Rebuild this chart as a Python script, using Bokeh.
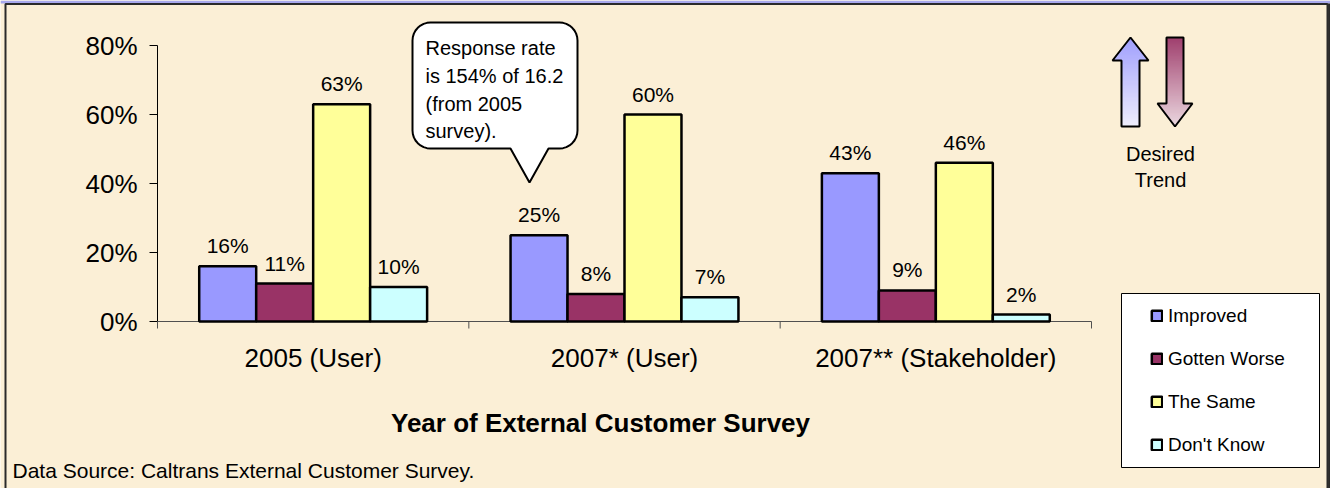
import math
from bokeh.plotting import figure
from bokeh.models import Legend, LegendItem, Label, Range1d, ColumnDataSource
from bokeh.transform import dodge
from bokeh.core.properties import value
from bokeh.embed import file_html
from bokeh.resources import INLINE

# ---------------- data ----------------
categories = ["2005 (User)", "2007* (User)", "2007** (Stakeholder)"]
series = ["Improved", "Gotten Worse", "The Same", "Don't Know"]
improved = [16, 25, 43]
gotten_worse = [11, 8, 9]
the_same = [63, 60, 46]
dont_know = [10, 7, 2]
y_ticks = [0, 20, 40, 60, 80]
y_tick_labels = ["0%", "20%", "40%", "60%", "80%"]
x_title = "Year of External Customer Survey"
source_note = "Data Source: Caltrans External Customer Survey."
callout_lines = ["Response rate", "is 154% of 16.2", "(from 2005", "survey)."]
trend_lines = ["Desired", "Trend"]

# ---------------- styles ----------------
FONT = "Liberation Sans"
BG = "#FBEFD6"
colors = ["#9999FF", "#993366", "#FFFF99", "#CCFFFF"]

W, H = 1330, 488
W_CAT = 934 / 3          # px per category
X0, Y0 = 157, 321        # pixel position of the data origin
PX_Y = 276 / 80          # px per percent


def ix(px):
    return (px - X0) / W_CAT


def iy(py):
    return (Y0 - py) / PX_Y


p = figure(width=W, height=H, x_range=Range1d(ix(0), ix(W)),
           y_range=Range1d(iy(H), iy(0)), min_border=0,
           x_axis_location=None, y_axis_location=None, title=None,
           output_backend="svg", toolbar_location=None)
p.background_fill_color = BG
p.border_fill_color = BG
p.outline_line_color = None
p.xgrid.visible = False
p.ygrid.visible = False

# frame decoration (blue strip at top, dark border)
p.quad(left=[ix(0)], right=[ix(W)], top=[iy(0)], bottom=[iy(3)],
       fill_color="#A8A8EC", line_color=None)
p.line([ix(5), ix(5), ix(1327), ix(1327)], [iy(H), iy(3.5), iy(3.5), iy(H)],
       line_color="#2a2a2a", line_width=2)
p.line([ix(1328.8)] * 2, [iy(3), iy(H)], line_color="#2a2a2a", line_width=2.5)

# ---------------- axes (drawn on the data scales) ----------------
n = len(categories)
centers = [i + 0.5 for i in range(n)]
p.segment(x0=[0], y0=[0], x1=[0], y1=[max(y_ticks)], line_color="black", line_width=1)
p.segment(x0=[ix(149)] * len(y_ticks), y0=y_ticks, x1=[0] * len(y_ticks), y1=y_ticks,
          line_color="black", line_width=1)
p.text(x=[ix(137)] * len(y_ticks), y=y_ticks, text=y_tick_labels,
       text_align="right", text_baseline="middle", text_font=value(FONT),
       text_font_size=value("26px"), text_color="black")
p.segment(x0=[0], y0=[0], x1=[n], y1=[0], line_color="#505050", line_width=1)
p.segment(x0=list(range(n + 1)), y0=[0] * (n + 1), x1=list(range(n + 1)),
          y1=[iy(328)] * (n + 1), line_color="#505050", line_width=1)
p.text(x=centers, y=[iy(357)] * n, text=categories, text_align="center",
       text_baseline="middle", text_font=value(FONT),
       text_font_size=value("26px"), text_color="black")

# ---------------- bars ----------------
src = ColumnDataSource(dict(
    x=centers,
    improved=improved, gotten_worse=gotten_worse,
    the_same=the_same, dont_know=dont_know,
    improved_lab=[f"{v}%" for v in improved],
    gotten_worse_lab=[f"{v}%" for v in gotten_worse],
    the_same_lab=[f"{v}%" for v in the_same],
    dont_know_lab=[f"{v}%" for v in dont_know],
))
cols = ["improved", "gotten_worse", "the_same", "dont_know"]
BW = 0.183
offsets = [-1.5 * BW, -0.5 * BW, 0.5 * BW, 1.5 * BW]
renderers = []
for col, off, c in zip(cols, offsets, colors):
    r = p.vbar(x=dodge("x", off), top=col, width=BW, source=src,
               fill_color=c, line_color="black", line_width=2.5)
    renderers.append(r)
    p.text(x=dodge("x", off), y=col, text=col + "_lab", source=src,
           text_align="center", text_baseline="bottom", y_offset=-9,
           text_font=value(FONT), text_font_size=value("21px"),
           text_color="black")

# ---------------- callout bubble ----------------
def bubble(x0, y0, x1, y1, r, tail):
    pts = []

    def arc(cx, cy, a0, a1, k=8):
        for j in range(k + 1):
            t = a0 + (a1 - a0) * j / k
            pts.append((cx + r * math.cos(t), cy + r * math.sin(t)))
    arc(x1 - r, y0 + r, -math.pi / 2, 0)
    arc(x1 - r, y1 - r, 0, math.pi / 2)
    pts.extend(tail)
    arc(x0 + r, y1 - r, math.pi / 2, math.pi)
    arc(x0 + r, y0 + r, math.pi, 1.5 * math.pi)
    return [ix(a) for a, b in pts], [iy(b) for a, b in pts]


bx, by = bubble(412, 22, 577, 148, 18, [(548, 148), (529, 182), (510, 148)])
p.patch(bx, by, fill_color="white", line_color="black", line_width=2)
p.text(x=[ix(425)] * len(callout_lines), y=[iy(v) for v in (47, 75, 103, 130)],
       text=callout_lines, text_align="left", text_baseline="middle",
       text_font=value(FONT), text_font_size=value("20px"), text_color="black")

# ---------------- trend arrows ----------------
def hexrgb(h):
    h = h.lstrip("#")
    return tuple(int(h[i:i + 2], 16) for i in (0, 2, 4))


def mix(c0, c1, t):
    a, b = hexrgb(c0), hexrgb(c1)
    return "#%02x%02x%02x" % tuple(round(a[i] + (b[i] - a[i]) * t) for i in range(3))


def interval(poly, y):
    xs = []
    m = len(poly)
    for i in range(m):
        (xa, ya), (xb, yb) = poly[i], poly[(i + 1) % m]
        if ya == yb:
            continue
        if min(ya, yb) <= y <= max(ya, yb):
            xs.append(xa + (xb - xa) * (y - ya) / (yb - ya))
    return min(xs), max(xs)


def grad_arrow(poly, ctop, cbot):
    ytop = min(b for a, b in poly)
    ybot = max(b for a, b in poly)
    L, R, T, B, C = [], [], [], [], []
    y = ytop
    while y < ybot:
        ym = y + 0.5
        xl, xr = interval(poly, ym)
        L.append(ix(xl)); R.append(ix(xr))
        T.append(iy(y - 0.3)); B.append(iy(y + 1.3))
        C.append(mix(ctop, cbot, (ym - ytop) / (ybot - ytop)))
        y += 1
    p.quad(left=L, right=R, top=T, bottom=B, fill_color=C, line_color=None)
    p.patch([ix(a) for a, b in poly], [iy(b) for a, b in poly],
            fill_color=None, line_color="black", line_width=2)


up = [(1121, 126), (1139, 126), (1139, 60), (1148, 60), (1130, 37),
      (1112, 60), (1121, 60)]
down = [(1166, 37), (1183, 37), (1183, 103), (1192, 103), (1174.5, 126),
        (1157, 103), (1166, 103)]
grad_arrow(up, "#9999FF", "#EEEEFF")
grad_arrow(down, "#993366", "#EAD6E0")
p.text(x=[ix(1160)] * 2, y=[iy(153), iy(179)], text=trend_lines,
       text_align="center", text_baseline="middle",
       text_font=value(FONT), text_font_size=value("20px"), text_color="black")

# ---------------- titles / notes ----------------
p.add_layout(Label(x=ix(600), y=iy(422), text=x_title, text_align="center",
                   text_baseline="middle", text_font=FONT,
                   text_font_size="26px", text_font_style="bold",
                   text_color="black"))
p.add_layout(Label(x=ix(12), y=iy(470), text=source_note, text_align="left",
                   text_baseline="middle", text_font=FONT,
                   text_font_size="21px", text_color="black"))

# ---------------- legend ----------------
p.quad(left=[ix(1121)], right=[ix(1319)], top=[iy(293)], bottom=[iy(467)],
       fill_color="white", line_color="black", line_width=1)
legend = Legend(items=[LegendItem(label=s, renderers=[r]) for s, r in zip(series, renderers)],
                location=(1150, H - 455.5), orientation="vertical",
                glyph_width=13, glyph_height=13, label_standoff=5,
                label_height=22, spacing=21, padding=11, margin=0,
                border_line_color=None, background_fill_alpha=0,
                label_text_font=FONT, label_text_font_size="19px",
                label_text_color="black")
p.add_layout(legend)

open("out.html", "w").write(file_html(p, INLINE))
